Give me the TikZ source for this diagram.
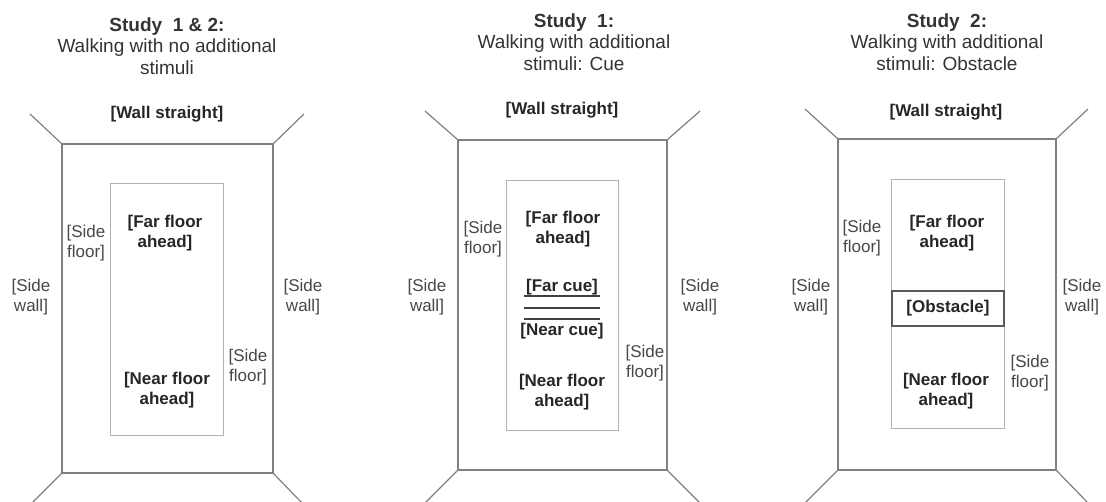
\documentclass[tikz,border=0pt]{standalone}
\usepackage{fontspec}
\setmainfont{Liberation Sans}
\begin{document}
\begin{tikzpicture}[x=1pt,y=-1pt,
  frame/.style={draw=black!50,line width=1.4pt},
  corner/.style={draw=black!50,line width=1.2pt},
  inner/.style={draw=black!30,line width=1pt},
  title/.style={align=center,inner sep=0pt,text=black!80,font=\fontsize{19}{21.5}\selectfont},
  blab/.style={align=center,inner sep=0pt,text=black!85,font=\fontsize{17}{20}\selectfont\bfseries},
  rlab/.style={align=center,inner sep=0pt,text=black!72,font=\fontsize{17}{20}\selectfont},
  cueline/.style={draw=black!75,line width=1.5pt},
  obst/.style={draw=black!65,line width=1.5pt,minimum width=112pt,minimum height=35pt,inner sep=0pt,text=black!85,font=\fontsize{17}{20}\selectfont\bfseries}
]
\path[use as bounding box] (0,0) rectangle (1106,502);

% ---------------- Panel 1 ----------------
\node[title] (t1) at (167,46) {\textbf{Study\ \ 1 \& 2:}\\Walking with no additional\\stimuli};
\coordinate (o1a) at (62,144); \coordinate (o1b) at (273,144);
\coordinate (o1c) at (273,473); \coordinate (o1d) at (62,473);
\draw[frame] (o1a) -- (o1b) -- (o1c) -- (o1d) -- cycle;
\coordinate (k1a) at (30,114); \coordinate (k1b) at (304,114);
\coordinate (k1c) at (302,503); \coordinate (k1d) at (32,503);
\draw[corner] (k1a) -- (o1a); \draw[corner] (k1b) -- (o1b);
\draw[corner] (k1c) -- (o1c); \draw[corner] (k1d) -- (o1d);
\node[draw=black!30,line width=1pt,minimum width=113pt,minimum height=252pt,inner sep=0pt] (i1) at (166.5,310) {};
\node[blab] (w1) at (167,114) {[Wall straight]};
\node[rlab] (sfl1) at (86,243) {[Side\\floor]};
\node[blab] (ff1) at (165,233) {[Far floor\\ahead]};
\node[rlab] (swl1) at (31,297) {[Side\\wall]};
\node[rlab] (swr1) at (303,297) {[Side\\wall]};
\node[rlab] (sfr1) at (248,367) {[Side\\floor]};
\node[blab] (nf1) at (167,390) {[Near floor\\ahead]};

% ---------------- Panel 2 ----------------
\node[title] (t2) at (574,42) {\textbf{Study\ \ 1:}\\Walking with additional\\stimuli: Cue};
\coordinate (o2a) at (458,140); \coordinate (o2b) at (667,140);
\coordinate (o2c) at (667,470); \coordinate (o2d) at (458,470);
\draw[frame] (o2a) -- (o2b) -- (o2c) -- (o2d) -- cycle;
\coordinate (k2a) at (425,111); \coordinate (k2b) at (700,111);
\coordinate (k2c) at (700,503); \coordinate (k2d) at (425,503);
\draw[corner] (k2a) -- (o2a); \draw[corner] (k2b) -- (o2b);
\draw[corner] (k2c) -- (o2c); \draw[corner] (k2d) -- (o2d);
\node[draw=black!30,line width=1pt,minimum width=112pt,minimum height=250pt,inner sep=0pt] (i2) at (562,306) {};
\node[blab] (w2) at (562,110) {[Wall straight]};
\node[rlab] (sfl2) at (483,239) {[Side\\floor]};
\node[blab] (ff2) at (563,229) {[Far floor\\ahead]};
\node[blab] (fc2) at (562,287) {[Far cue]};
\coordinate (u2a) at (524,296); \coordinate (u2b) at (600,296);
\coordinate (l2a) at (524,308); \coordinate (l2b) at (600,308);
\coordinate (m2a) at (524,319); \coordinate (m2b) at (600,319);
\draw[cueline] (u2a) -- (u2b);
\draw[cueline] (l2a) -- (l2b);
\draw[cueline] (m2a) -- (m2b);
\node[blab] (nc2) at (562,331) {[Near cue]};
\node[rlab] (swl2) at (427,297) {[Side\\wall]};
\node[rlab] (swr2) at (700,297) {[Side\\wall]};
\node[rlab] (sfr2) at (645,363) {[Side\\floor]};
\node[blab] (nf2) at (562,392) {[Near floor\\ahead]};

% ---------------- Panel 3 ----------------
\node[title] (t3) at (947,42) {\textbf{Study\ \ 2:}\\Walking with additional\\stimuli: Obstacle};
\coordinate (o3a) at (838,139); \coordinate (o3b) at (1056,139);
\coordinate (o3c) at (1056,470); \coordinate (o3d) at (838,470);
\draw[frame] (o3a) -- (o3b) -- (o3c) -- (o3d) -- cycle;
\coordinate (k3a) at (805,109); \coordinate (k3b) at (1088,109);
\coordinate (k3c) at (1088,503); \coordinate (k3d) at (805,503);
\draw[corner] (k3a) -- (o3a); \draw[corner] (k3b) -- (o3b);
\draw[corner] (k3c) -- (o3c); \draw[corner] (k3d) -- (o3d);
\node[draw=black!30,line width=1pt,minimum width=113pt,minimum height=249pt,inner sep=0pt] (i3) at (947.5,304.5) {};
\node[blab] (w3) at (946,112) {[Wall straight]};
\node[rlab] (sfl3) at (862,238) {[Side\\floor]};
\node[blab] (ff3) at (947,233) {[Far floor\\ahead]};
\node[obst] (ob3) at (948,308.5) {[Obstacle]};
\node[rlab] (swl3) at (811,297) {[Side\\wall]};
\node[rlab] (swr3) at (1082,297) {[Side\\wall]};
\node[rlab] (sfr3) at (1030,373) {[Side\\floor]};
\node[blab] (nf3) at (946,391) {[Near floor\\ahead]};
\end{tikzpicture}
\end{document}
